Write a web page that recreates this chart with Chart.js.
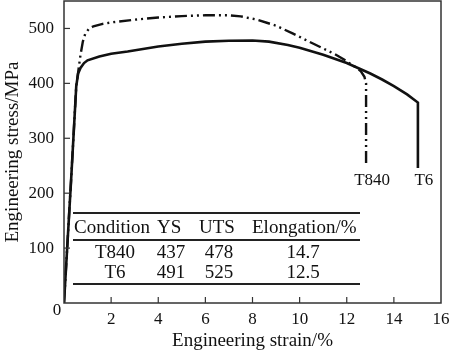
<!DOCTYPE html>
<html>
<head>
<meta charset="utf-8">
<script src="https://cdn.jsdelivr.net/npm/chart.js@4.4.0/dist/chart.umd.min.js"></script>
<style>
html,body{margin:0;padding:0;background:#fff;}
#wrap{width:450px;height:352px;position:relative;}
</style>
</head>
<body>
<div id="wrap"><canvas id="c" width="450" height="352"></canvas></div>
<script>
// ---- data ----
const t6Strain   = [0, 0.3, 0.52, 0.6, 0.7, 0.85, 1, 1.5, 2, 2.7, 4, 5, 6, 7, 8, 8.7, 9.5, 10, 11, 12, 13, 13.5, 14, 14.56, 15.02, 15.02];
const t6Stress   = [0, 223, 395, 418, 428, 437, 442, 449, 454, 458, 467, 472, 476, 477.5, 478, 476, 470, 465, 452, 437, 418, 407, 395, 380, 365, 246];
const t840Strain = [0, 0.3, 0.52, 0.6, 0.7, 0.8, 0.9, 1.05, 1.25, 1.6, 2, 3, 4, 5, 6, 7, 7.5, 8.2, 9, 9.7, 10.5, 11.5, 11.9, 12.14, 12.4, 12.6, 12.75, 12.82, 12.82];
const t840Stress = [0, 223, 395, 420, 452, 476, 490, 499, 504, 508, 511, 516, 520, 522.5, 524, 524, 522, 516, 505, 491, 474, 453, 443, 436, 429, 422, 412, 400, 253];
const seriesLabels = ['T840', 'T6'];
const xTicks = [2, 4, 6, 8, 10, 12, 14, 16];
const yTicks = [100, 200, 300, 400, 500];
const tableHeader = ['Condition', 'YS', 'UTS', 'Elongation/%'];
const tableCondition = ['T840', 'T6'];
const tableYS = ['437', '491'];
const tableUTS = ['478', '525'];
const tableElong = ['14.7', '12.5'];

const toPts = (xs, ys) => xs.map((x, i) => ({x: x, y: ys[i]}));
const INK = '#111';
const FRAME = '#333';
const FONT = '"Liberation Serif", "DejaVu Serif", serif';

const decor = {
  id: 'decor',
  afterDraw(chart) {
    const ctx = chart.ctx, a = chart.chartArea;
    const xs = chart.scales.x, ys = chart.scales.y;
    ctx.save();
    // frame
    ctx.strokeStyle = FRAME; ctx.lineWidth = 1.5;
    ctx.strokeRect(a.left, a.top, a.right - a.left, a.bottom - a.top);
    // inward ticks
    ctx.lineWidth = 1.2;
    xTicks.forEach(v => { if (v >= 16) return; const px = xs.getPixelForValue(v);
      ctx.beginPath(); ctx.moveTo(px, a.bottom); ctx.lineTo(px, a.bottom - 6); ctx.stroke(); });
    yTicks.forEach(v => { const py = ys.getPixelForValue(v);
      ctx.beginPath(); ctx.moveTo(a.left, py); ctx.lineTo(a.left + 6, py); ctx.stroke(); });
    // origin label
    ctx.fillStyle = INK; ctx.font = '17px ' + FONT;
    ctx.textAlign = 'center'; ctx.textBaseline = 'middle';
    ctx.fillText('0', 57, 311);
    // curve labels
    ctx.font = '17px ' + FONT;
    const ends = [[t840Strain, seriesLabels[0]], [t6Strain, seriesLabels[1]]];
    ends.forEach(([sx, lab]) => {
      const px = xs.getPixelForValue(sx[sx.length - 1]);
      ctx.fillText(lab, px + 6, 181);
    });
    // table
    const L = 73, R = 360;
    ctx.strokeStyle = '#222'; ctx.lineWidth = 1.8;
    [213, 240, 284].forEach(y => { ctx.beginPath(); ctx.moveTo(L, y); ctx.lineTo(R, y); ctx.stroke(); });
    ctx.font = '19px ' + FONT;
    ctx.textAlign = 'left';
    ctx.fillText(tableHeader[0], 74, 228);
    ctx.fillText(tableHeader[1], 157, 228);
    ctx.fillText(tableHeader[2], 199, 228);
    ctx.fillText(tableHeader[3], 252, 228);
    ctx.textAlign = 'center';
    const rowY = [253, 273];
    for (let i = 0; i < tableCondition.length; i++) {
      ctx.fillText(tableCondition[i], 115, rowY[i]);
      ctx.fillText(tableYS[i], 171, rowY[i]);
      ctx.fillText(tableUTS[i], 219, rowY[i]);
      ctx.fillText(tableElong[i], 303, rowY[i]);
    }
    ctx.restore();
  }
};

new Chart(document.getElementById('c'), {
  type: 'line',
  data: {
    datasets: [
      { label: seriesLabels[0], data: toPts(t840Strain, t840Stress), borderColor: INK, borderWidth: 2.4,
        borderDash: [12, 4, 2, 4, 2, 4], pointRadius: 0, tension: 0, fill: false },
      { label: seriesLabels[1], data: toPts(t6Strain, t6Stress), borderColor: INK, borderWidth: 2.6,
        pointRadius: 0, tension: 0, fill: false }
    ]
  },
  options: {
    responsive: false, animation: false,
    layout: { padding: { top: 1, right: 9, left: 0, bottom: 0 } },
    plugins: { legend: { display: false }, tooltip: { enabled: false } },
    scales: {
      x: {
        type: 'linear', min: 0, max: 16,
        afterFit(s) { s.height = 49; s.paddingLeft = 0; s.paddingRight = 0; },
        afterBuildTicks(s) { s.ticks = xTicks.map(v => ({ value: v })); },
        grid: { display: false, drawTicks: false },
        border: { display: false },
        ticks: { color: INK, font: { family: FONT, size: 17 }, padding: 6, maxRotation: 0, autoSkip: false },
        title: { display: true, text: 'Engineering strain/%', color: INK, font: { family: FONT, size: 19 }, padding: { top: 0, bottom: 0 } }
      },
      y: {
        min: 0, max: 550,
        afterFit(s) { s.width = 64; s.paddingTop = 0; s.paddingBottom = 0; },
        afterBuildTicks(s) { s.ticks = yTicks.map(v => ({ value: v })); },
        grid: { display: false, drawTicks: false },
        border: { display: false },
        ticks: { color: INK, font: { family: FONT, size: 17 }, padding: 10, autoSkip: false },
        title: { display: true, text: 'Engineering stress/MPa', color: INK, font: { family: FONT, size: 19 }, padding: { top: 2, bottom: 0 } }
      }
    }
  },
  plugins: [decor]
});
</script>
</body>
</html>
